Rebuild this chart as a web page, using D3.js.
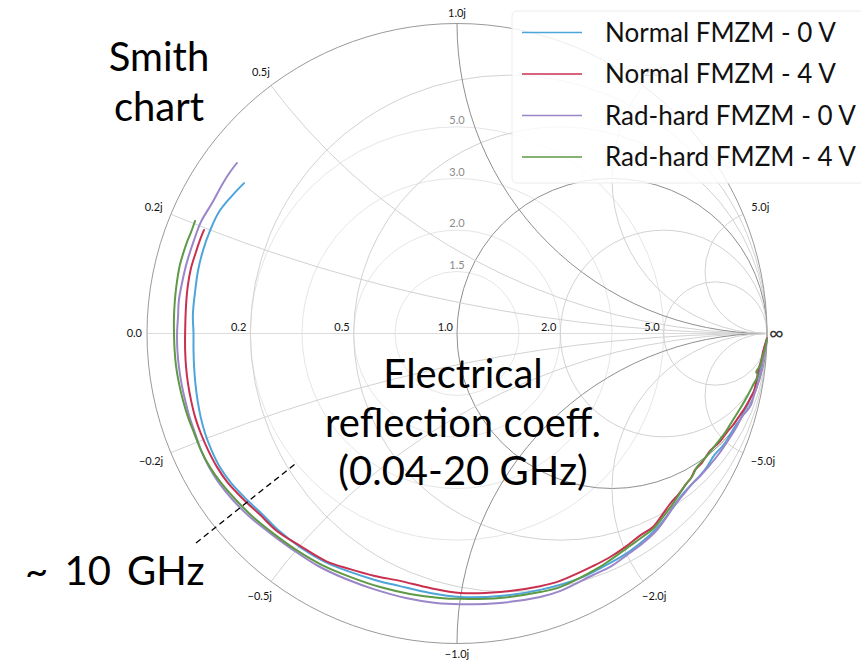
<!DOCTYPE html>
<html>
<head>
<meta charset="utf-8">
<script src="https://cdn.jsdelivr.net/npm/d3@7"></script>
<style>
  body { margin: 0; background: #fff; }
  svg { display: block; }
  text { font-family: Lato, "Open Sans", "DejaVu Sans", sans-serif; }
</style>
</head>
<body>
<svg id="chart" width="861" height="661"></svg>
<script>
// Reflection coefficient S11 (real, imaginary), 0.04–20 GHz sweep
const normal0V = [
  [-0.687, 0.485], [-0.726, 0.444], [-0.768, 0.392], [-0.797, 0.331], [-0.819, 0.269],
  [-0.835, 0.205], [-0.845, 0.134], [-0.852, 0.060], [-0.850, 0.002], [-0.850, -0.053],
  [-0.848, -0.108], [-0.844, -0.160], [-0.837, -0.215], [-0.827, -0.269], [-0.813, -0.321],
  [-0.792, -0.376], [-0.765, -0.431], [-0.729, -0.482], [-0.677, -0.537], [-0.629, -0.582],
  [-0.577, -0.634], [-0.506, -0.689], [-0.419, -0.740], [-0.345, -0.769], [-0.265, -0.795],
  [-0.184, -0.815], [-0.087, -0.837], [0.010, -0.850], [0.139, -0.847], [0.268, -0.827],
  [0.397, -0.789], [0.494, -0.740], [0.558, -0.702], [0.639, -0.634], [0.694, -0.566],
  [0.722, -0.525], [0.752, -0.492], [0.781, -0.462], [0.806, -0.431], [0.826, -0.398],
  [0.839, -0.382], [0.858, -0.362], [0.871, -0.344], [0.887, -0.316], [0.900, -0.295],
  [0.913, -0.278], [0.923, -0.256], [0.937, -0.231], [0.948, -0.205], [0.961, -0.180],
  [0.968, -0.150], [0.976, -0.125], [0.981, -0.102], [0.990, -0.053], [1.000, -0.018]
];
const normal4V = [
  [-0.816, 0.334], [-0.829, 0.302], [-0.842, 0.263], [-0.858, 0.211], [-0.868, 0.156],
  [-0.874, 0.092], [-0.877, 0.002], [-0.877, -0.053], [-0.874, -0.108], [-0.868, -0.160],
  [-0.858, -0.215], [-0.845, -0.269], [-0.827, -0.321], [-0.803, -0.376], [-0.774, -0.431],
  [-0.739, -0.482], [-0.687, -0.537], [-0.635, -0.585], [-0.581, -0.637], [-0.506, -0.685],
  [-0.423, -0.734], [-0.345, -0.760], [-0.265, -0.782], [-0.184, -0.798], [-0.087, -0.821],
  [0.010, -0.837], [0.139, -0.834], [0.268, -0.815], [0.332, -0.798], [0.439, -0.750],
  [0.494, -0.721], [0.548, -0.685], [0.590, -0.652], [0.632, -0.624], [0.660, -0.588],
  [0.687, -0.550], [0.715, -0.518], [0.742, -0.482], [0.755, -0.466], [0.768, -0.440],
  [0.790, -0.417], [0.816, -0.379], [0.845, -0.352], [0.871, -0.318], [0.890, -0.296],
  [0.913, -0.263], [0.928, -0.241], [0.945, -0.211], [0.958, -0.186], [0.965, -0.156],
  [0.974, -0.111], [0.982, -0.085], [0.987, -0.060], [1.000, -0.015]
];
const radhard0V = [
  [-0.710, 0.550], [-0.732, 0.521], [-0.755, 0.485], [-0.790, 0.421], [-0.826, 0.360],
  [-0.848, 0.302], [-0.871, 0.231], [-0.887, 0.163], [-0.897, 0.108], [-0.900, 0.053],
  [-0.903, 0.002], [-0.902, -0.053], [-0.897, -0.108], [-0.889, -0.160], [-0.877, -0.215],
  [-0.863, -0.269], [-0.845, -0.321], [-0.826, -0.376], [-0.800, -0.431], [-0.768, -0.482],
  [-0.723, -0.537], [-0.668, -0.592], [-0.603, -0.644], [-0.529, -0.698], [-0.448, -0.750],
  [-0.358, -0.792], [-0.261, -0.827], [-0.165, -0.853], [-0.068, -0.869], [0.010, -0.873],
  [0.139, -0.869], [0.268, -0.850], [0.332, -0.831], [0.439, -0.779], [0.494, -0.753],
  [0.548, -0.715], [0.600, -0.676], [0.645, -0.634], [0.672, -0.598], [0.697, -0.560],
  [0.730, -0.520], [0.761, -0.482], [0.786, -0.458], [0.810, -0.431], [0.842, -0.392],
  [0.871, -0.350], [0.897, -0.310], [0.923, -0.263], [0.935, -0.250], [0.948, -0.231],
  [0.958, -0.199], [0.968, -0.169], [0.977, -0.140], [0.987, -0.089], [0.997, -0.040],
  [1.000, -0.018]
];
const radhard4V = [
  [-0.845, 0.363], [-0.858, 0.327], [-0.871, 0.295], [-0.884, 0.256], [-0.894, 0.221],
  [-0.900, 0.189], [-0.906, 0.147], [-0.910, 0.108], [-0.913, 0.053], [-0.913, 0.002],
  [-0.911, -0.053], [-0.906, -0.108], [-0.897, -0.160], [-0.884, -0.215], [-0.868, -0.269],
  [-0.848, -0.321], [-0.826, -0.376], [-0.797, -0.431], [-0.761, -0.482], [-0.713, -0.537],
  [-0.658, -0.592], [-0.594, -0.644], [-0.519, -0.698], [-0.435, -0.747], [-0.345, -0.785],
  [-0.248, -0.818], [-0.152, -0.840], [-0.055, -0.853], [0.010, -0.856], [0.139, -0.853],
  [0.268, -0.834], [0.332, -0.818], [0.461, -0.753], [0.494, -0.731], [0.558, -0.685],
  [0.600, -0.655], [0.639, -0.624], [0.666, -0.590], [0.694, -0.553], [0.716, -0.520],
  [0.739, -0.485], [0.758, -0.462], [0.774, -0.431], [0.806, -0.395], [0.839, -0.353],
  [0.866, -0.318], [0.890, -0.279], [0.913, -0.243], [0.935, -0.205], [0.955, -0.166],
  [0.971, -0.134], [0.965, -0.124], [0.977, -0.105], [0.984, -0.079], [0.994, -0.047],
  [1.000, -0.018]
];

const seriesNames = ["Normal FMZM - 0 V", "Normal FMZM - 4 V", "Rad-hard FMZM - 0 V", "Rad-hard FMZM - 4 V"];
const seriesColors = ["#4ea5d9", "#c9304f", "#9b86c9", "#5e9a45"];
const seriesData = [normal0V, normal4V, radhard0V, radhard4V];

// Grid values
const resistanceTicks = [0.2, 0.5, 1.0, 2.0, 5.0];
const reactanceTicks = [0.2, 0.5, 1.0, 2.0, 5.0, -0.2, -0.5, -1.0, -2.0, -5.0];
const vswrTicks = [1.5, 2.0, 3.0, 5.0];

const titleLines = ["Smith", "chart"];
const noteLines = ["Electrical", "reflection coeff.", "(0.04-20 GHz)"];
const markerLabel = "~ 10 GHz";

const svg = d3.select("#chart");
const cx = 457, cy = 333.5, R = 310;
const x = d3.scaleLinear().domain([-1, 1]).range([cx - R, cx + R]);
const y = d3.scaleLinear().domain([-1, 1]).range([cy + R, cy - R]);
const k = R; // pixels per unit of reflection coefficient
const fmt = d3.format(".1f");

svg.append("defs").append("clipPath").attr("id", "unit")
  .append("circle").attr("cx", x(0)).attr("cy", y(0)).attr("r", k);

const grid = svg.append("g").attr("fill", "none");

// VSWR circles (constant |Gamma|)
vswrTicks.forEach(s => {
  const g = (s - 1) / (s + 1);
  grid.append("circle").attr("cx", x(0)).attr("cy", y(0)).attr("r", g * k)
    .attr("stroke", "#e6e6e6").attr("stroke-width", 1);
});

// horizontal real axis
grid.append("line").attr("x1", x(-1)).attr("x2", x(1)).attr("y1", y(0)).attr("y2", y(0))
  .attr("stroke", "#dcdcdc").attr("stroke-width", 1);

// constant-resistance circles
resistanceTicks.forEach(r => {
  grid.append("circle")
    .attr("cx", x(r / (r + 1))).attr("cy", y(0)).attr("r", k / (r + 1))
    .attr("stroke", r === 1 ? "#8f8f8f" : "#d2d2d2").attr("stroke-width", 1);
});

// constant-reactance arcs, clipped to the unit disc
const arcs = grid.append("g").attr("clip-path", "url(#unit)");
reactanceTicks.forEach(v => {
  arcs.append("circle")
    .attr("cx", x(1)).attr("cy", y(1 / v)).attr("r", k / Math.abs(v))
    .attr("stroke", Math.abs(v) === 1 ? "#8f8f8f" : "#d2d2d2").attr("stroke-width", 1);
});

// outer boundary |Gamma| = 1
grid.append("circle").attr("cx", x(0)).attr("cy", y(0)).attr("r", k)
  .attr("stroke", "#9a9a9a").attr("stroke-width", 1);

// labels
const labels = svg.append("g").attr("font-size", 11).attr("fill", "#111");

resistanceTicks.forEach(r => {
  labels.append("text")
    .attr("x", x((r - 1) / (r + 1)) - 4).attr("y", y(0) - 3)
    .attr("text-anchor", "end").text(fmt(r));
});
labels.append("text").attr("x", x(-1) - 5).attr("y", y(0)).attr("dy", "0.35em")
  .attr("text-anchor", "end").text("0.0");
labels.append("text").attr("x", x(1) + 2).attr("y", y(0)).attr("dy", "0.32em")
  .attr("font-size", 20).attr("fill", "#333").attr("text-anchor", "start").text("\u221e");

reactanceTicks.forEach(v => {
  // Gamma at z = jv lies on the unit circle
  const ang = Math.atan2(2 * v, v * v - 1);
  const dx = Math.cos(ang), dy = Math.sin(ang);
  const label = fmt(v) + "j";
  const w = label.length * 6.2, h = 11;
  const off = 5 + 0.5 * (w * Math.abs(dx) + h * Math.abs(dy));
  labels.append("text")
    .attr("x", x(dx * (1 + off / k))).attr("y", y(dy * (1 + off / k)))
    .attr("dy", "0.35em").attr("text-anchor", "middle").text(label);
});

vswrTicks.forEach(s => {
  const g = (s - 1) / (s + 1);
  labels.append("text").attr("x", x(0)).attr("y", y(g) - 3)
    .attr("text-anchor", "middle").attr("fill", "#8a8a8a").text(fmt(s));
});

// measured traces
const line = d3.line().x(d => x(d[0])).y(d => y(d[1])).curve(d3.curveCatmullRom.alpha(0.5));
const traces = svg.append("g").attr("fill", "none");
seriesData.forEach((d, i) => {
  traces.append("path").attr("d", line(d))
    .attr("stroke", seriesColors[i]).attr("stroke-width", 2)
    .attr("stroke-linejoin", "round").attr("stroke-linecap", "round");
});

// legend
const legend = svg.append("g").attr("transform", "translate(512,11)");
legend.append("rect").attr("width", 370).attr("height", 172).attr("rx", 5)
  .attr("fill", "#fff").attr("fill-opacity", 0.82).attr("stroke", "#ececec");
seriesNames.forEach((n, i) => {
  const ly = 21.5 + i * 41.5;
  legend.append("line").attr("x1", 10).attr("x2", 70).attr("y1", ly).attr("y2", ly)
    .attr("stroke", seriesColors[i]).attr("stroke-width", 1.6);
  legend.append("text").attr("x", 93).attr("y", ly).attr("dy", "0.36em")
    .attr("font-size", 26).attr("fill", "#111").text(n);
});

// annotations
const notes = svg.append("g").attr("fill", "#000").attr("font-size", 40).attr("text-anchor", "middle");
titleLines.forEach((t, i) => notes.append("text").attr("x", 159).attr("y", 71 + i * 50).text(t));
noteLines.forEach((t, i) => notes.append("text").attr("x", 463).attr("y", 388 + i * 48.5).text(t));
notes.append("text").attr("x", 25).attr("y", 585).attr("text-anchor", "start")
  .attr("word-spacing", 6).text(markerLabel);

// 10 GHz marker across the traces
svg.append("line")
  .attr("x1", 196).attr("y1", 543).attr("x2", 295).attr("y2", 464)
  .attr("stroke", "#000").attr("stroke-width", 1.3).attr("stroke-dasharray", "6,4");
</script>
</body>
</html>
